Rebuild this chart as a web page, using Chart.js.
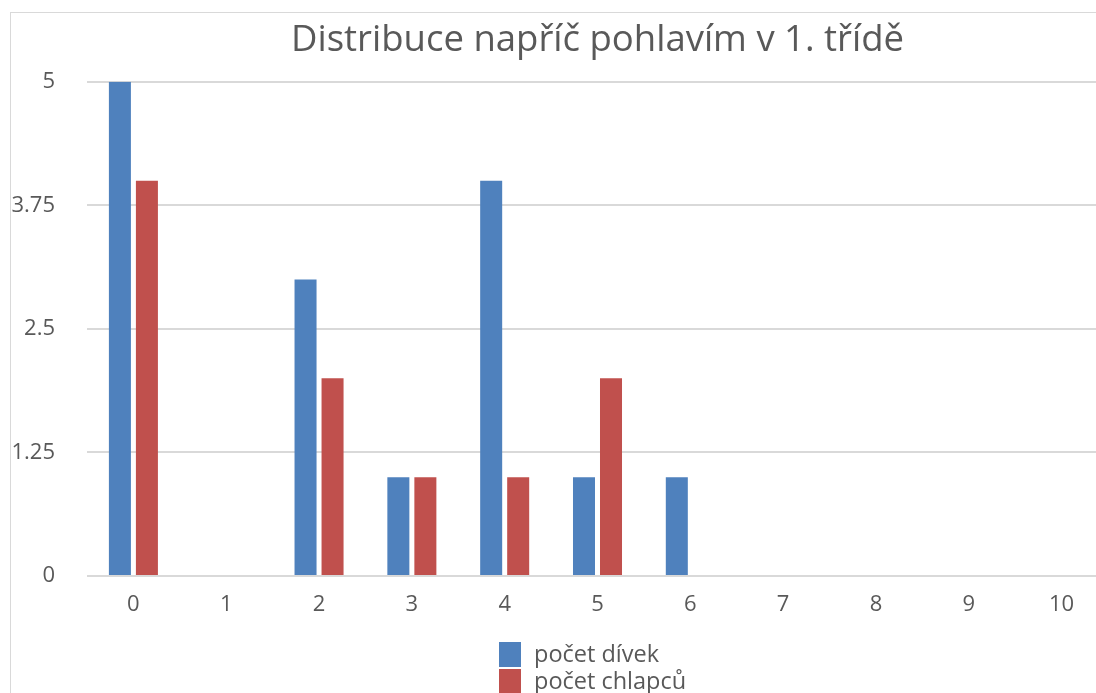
<!DOCTYPE html>
<html>
<head>
<meta charset="utf-8">
<script src="https://cdn.jsdelivr.net/npm/chart.js@4.4.0/dist/chart.umd.min.js"></script>
<style>
  html, body { margin: 0; padding: 0; overflow: hidden; background: #fff; }
  body { width: 1096px; height: 693px; position: relative; }
  #frameTop { position: absolute; left: 10px; top: 12px; width: 1086px; height: 1px; background: #d9d9d9; }
  #frameLeft { position: absolute; left: 10px; top: 12px; width: 1px; height: 681px; background: #d9d9d9; }
  #wrap { position: absolute; left: 0; top: 0; width: 1130px; height: 693px; }
</style>
</head>
<body>
<div id="frameTop"></div>
<div id="frameLeft"></div>
<div id="wrap"><canvas id="myChart"></canvas></div>
<script>
// data
const categories = ['0', '1', '2', '3', '4', '5', '6', '7', '8', '9', '10'];
const divky = [5, 0, 3, 1, 4, 1, 1, 0, 0, 0, 0];
const chlapci = [4, 0, 2, 1, 1, 2, 0, 0, 0, 0, 0];
const seriesNames = ['počet dívek', 'počet chlapců'];
const yTicks = [0, 1.25, 2.5, 3.75, 5];
const titleText = 'Distribuce napříč pohlavím v 1. třídě';

const textColor = '#595959';
const fontFamily = '"Open Sans", sans-serif';

// vertical legend under the axis, drawn by hand
const stackedLegend = {
    id: 'stackedLegend',
    afterDraw(chart) {
        const ctx = chart.ctx;
        ctx.save();
        ctx.font = '23.5px ' + fontFamily;
        ctx.textBaseline = 'middle';
        chart.data.datasets.forEach((ds, i) => {
            const y = 642 + i * 27;
            ctx.fillStyle = ds.backgroundColor;
            ctx.fillRect(499, y, 22, 25);
            ctx.fillStyle = textColor;
            ctx.fillText(ds.label, 534, y + 13);
        });
        ctx.restore();
    }
};

document.addEventListener('DOMContentLoaded', () => {
    const ctx = document.getElementById('myChart').getContext('2d');
    const chart = new Chart(ctx, {
        type: 'bar',
        data: {
            labels: categories,
            datasets: [{
                label: seriesNames[0],
                backgroundColor: '#4f81bd',
                data: divky
            }, {
                label: seriesNames[1],
                backgroundColor: '#c0504d',
                data: chlapci
            }]
        },
        options: {
            responsive: true,
            maintainAspectRatio: false,
            animation: false,
            categoryPercentage: 0.582,
            barPercentage: 0.815,
            layout: { padding: { left: 0, right: 22, top: 12, bottom: 0 } },
            plugins: {
                legend: { display: false },
                tooltip: { enabled: false },
                title: {
                    display: true,
                    fullSize: false,
                    text: titleText,
                    color: textColor,
                    font: { family: fontFamily, size: 36.5, weight: 'normal' },
                    padding: { top: 7, bottom: 19 }
                }
            },
            scales: {
                x: {
                    grid: { display: false },
                    border: { display: false },
                    ticks: { color: textColor, font: { family: fontFamily, size: 22 }, padding: 8 },
                    afterFit: (scale) => { scale.height = 117; }
                },
                y: {
                    min: 0,
                    max: 5,
                    afterBuildTicks: (scale) => { scale.ticks = yTicks.map(v => ({ value: v })); },
                    grid: { color: '#d9d9d9', lineWidth: 2, drawTicks: false },
                    border: { display: false },
                    ticks: {
                        color: textColor,
                        font: { family: fontFamily, size: 22 },
                        padding: 32,
                        callback: (v) => String(v)
                    },
                    afterFit: (scale) => { scale.width = 87; }
                }
            }
        },
        plugins: [stackedLegend]
    });
});
</script>
</body>
</html>
